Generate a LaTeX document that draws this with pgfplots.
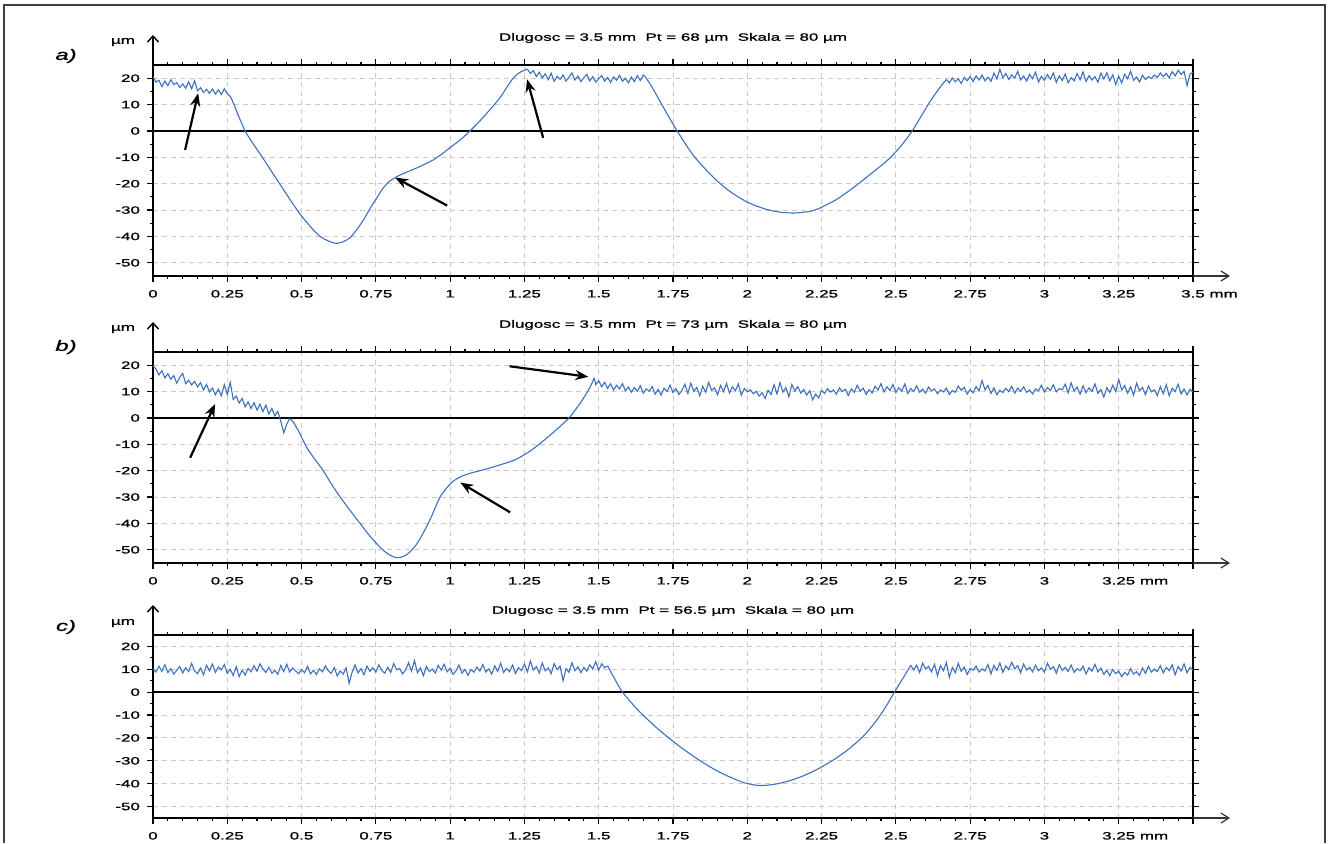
\documentclass[border=0pt]{standalone}
\usepackage{fontspec}
\setmainfont{Liberation Sans}[FakeStretch=1.6, FakeBold=1.2]
\usepackage{pgfplots}
\pgfplotsset{compat=1.18}
\usetikzlibrary{arrows.meta}

\definecolor{prof}{RGB}{62,112,190}
\definecolor{gridc}{RGB}{212,198,192}
\newcommand\sz{\fontsize{5.3}{6}\selectfont}

\tikzset{note/.style={black, line width=1.1pt, -{Stealth[length=6.5pt,width=5pt]}}}

\pgfplotsset{
  profile/.style={
    scale only axis, width=520pt,
    xmin=0, xmax=3.5, ymin=-55, ymax=25,
    xtick={0,0.25,0.5,0.75,1,1.25,1.5,1.75,2,2.25,2.5,2.75,3,3.25,3.5},
    ytick={-50,-40,-30,-20,-10,0,10,20},
    yticklabels={-50,-40,-30,-20,-10,0,10,20},
    minor x tick num=4, minor y tick num=1,
    grid=major,
    major grid style={gridc, dash pattern=on 2.5pt off 2pt, line width=0.45pt},
    tick align=outside, major tick length=3pt, minor tick length=1.5pt,
    every tick/.style={black, line width=0.6pt},
    axis line style={black, line width=0.8pt},
    ticklabel style={font=\sz},
    xticklabel style={yshift=-0.5pt},
  },
  curve/.style={prof, line width=0.55pt},
  smoothcurve/.style={prof, line width=0.55pt, smooth, tension=0.45},
}

\begin{document}
\begin{tikzpicture}
\useasboundingbox (0,0) rectangle (664pt,421.5pt);
\draw[black!75, line width=0.6pt] (2pt,0) -- (2pt,419pt) -- (662.5pt,419pt) -- (662.5pt,0);

% ---------------- a)
\begin{axis}[profile, name=pa, height=105.5pt, at={(76.5pt,283.5pt)}, anchor=south west,
  xticklabels={0,0.25,0.5,0.75,1,1.25,1.5,1.75,2,2.25,2.5,2.75,3,3.25,3.5\rlap{\ mm}}]
\draw[black, line width=0.7pt] (axis cs:0,0) -- (axis cs:3.5,0);
\addplot[curve] coordinates {
(0,20.5) (0.01,18.5) (0.02,19.2) (0.03,16.8) (0.04,18.9) (0.05,17.2) (0.06,19.4) (0.07,17.6) (0.08,18.3) (0.09,16.5)
(0.10,17.8) (0.11,16.2) (0.12,18.6) (0.13,16.0) (0.14,19.0) (0.15,15.2) (0.16,16.4) (0.17,14.6) (0.18,15.8) (0.19,14.3)
(0.20,15.9) (0.21,14.0) (0.22,15.6) (0.23,13.8) (0.24,16.0) (0.25,14.2)};
\addplot[smoothcurve] coordinates {
(0.25,14.2) (0.265,12) (0.31,0) (0.368,-10) (0.426,-20) (0.485,-30) (0.52,-35) (0.56,-39.8) (0.60,-42.2) (0.62,-42.6)
(0.64,-42) (0.663,-40.5) (0.685,-37.5) (0.707,-34) (0.73,-29.5) (0.754,-25.2) (0.775,-21.6) (0.798,-18.9) (0.83,-16.8)
(0.865,-15.1) (0.90,-13.4) (0.943,-11.0) (0.975,-8.5) (1.0,-6.3) (1.035,-3.3) (1.067,0) (1.10,3.8) (1.135,8.2) (1.168,12.6)
(1.19,16.4) (1.212,20) (1.235,22.2) (1.26,23.5)};
\addplot[curve] coordinates {
(1.26,23.5) (1.27,21.8) (1.28,22.9) (1.29,20.6) (1.30,22.3) (1.31,20.1) (1.32,21.7) (1.33,19.4) (1.34,21.9) (1.35,18.8)
(1.36,20.7) (1.37,19.6) (1.38,21.2) (1.39,18.9) (1.40,20.4) (1.41,22.0) (1.42,19.3) (1.43,20.8) (1.44,18.7) (1.45,20.2)
(1.46,21.5) (1.47,19.0) (1.48,20.6) (1.49,18.5) (1.50,19.8) (1.51,21.0) (1.52,18.9) (1.53,20.3) (1.54,18.4) (1.55,20.5)
(1.56,19.2) (1.57,21.1) (1.58,18.8) (1.59,20.0) (1.60,18.3) (1.61,20.4) (1.62,18.7) (1.63,21.0) (1.64,19.1) (1.65,21.2)
(1.66,20.0)};
\addplot[smoothcurve] coordinates {
(1.66,20.0) (1.68,16.5) (1.72,8.5) (1.764,0) (1.82,-9.5) (1.886,-17.6) (1.94,-22.8) (2.0,-27) (2.06,-29.6) (2.11,-30.8)
(2.16,-31.1) (2.21,-30.5) (2.245,-29.2) (2.30,-26) (2.357,-21.5) (2.41,-16.8) (2.47,-11.3) (2.515,-6) (2.555,0)
(2.59,6.5) (2.616,11.3) (2.645,16) (2.67,19.5)};
\addplot[curve] coordinates {
(2.67,19.5) (2.68,18.2) (2.69,20.1) (2.70,18.6) (2.71,19.8) (2.72,18.0) (2.73,20.3) (2.74,19.0) (2.75,20.6) (2.76,18.7)
(2.77,20.9) (2.78,19.3) (2.79,21.2) (2.80,19.0) (2.81,20.4) (2.82,18.8) (2.83,22.0) (2.84,19.7) (2.85,23.4) (2.86,20.2)
(2.87,21.8) (2.88,19.5) (2.89,21.3) (2.90,20.0) (2.91,22.6) (2.92,19.4) (2.93,20.8) (2.94,18.9) (2.95,21.5) (2.96,19.8)
(2.97,22.3) (2.98,18.6) (2.99,20.7) (3.00,19.2) (3.01,21.4) (3.02,19.6) (3.03,22.0) (3.04,18.4) (3.05,20.9) (3.06,19.1)
(3.07,21.6) (3.08,18.3) (3.09,20.2) (3.10,19.0) (3.11,21.8) (3.12,19.4) (3.13,22.4) (3.14,18.7) (3.15,21.0) (3.16,19.3)
(3.17,20.6) (3.18,18.5) (3.19,21.9) (3.20,19.7) (3.21,22.1) (3.22,19.0) (3.23,21.3) (3.24,17.6) (3.25,20.8) (3.26,18.2)
(3.27,21.5) (3.28,19.8) (3.29,22.7) (3.30,19.2) (3.31,20.4) (3.32,18.6) (3.33,21.1) (3.34,19.5) (3.35,20.6) (3.36,19.9)
(3.37,21.2) (3.38,20.3) (3.39,22.0) (3.40,20.6) (3.41,21.8) (3.42,20.1) (3.43,22.5) (3.44,20.9) (3.45,23.0) (3.46,21.4)
(3.47,22.6) (3.48,17.2) (3.49,21.5) (3.50,22.3)};
\draw[note] (axis cs:0.108,-7.2) -- (axis cs:0.152,14.3);
\draw[note] (axis cs:0.99,-28.3) -- (axis cs:0.815,-17.7);
\draw[note] (axis cs:1.313,-2.6) -- (axis cs:1.259,19.6);
\end{axis}

% ---------------- b)
\begin{axis}[profile, name=pb, height=105.5pt, at={(76.5pt,140pt)}, anchor=south west,
  xticklabels={0,0.25,0.5,0.75,1,1.25,1.5,1.75,2,2.25,2.5,2.75,3,3.25\rlap{\ mm},{}}]
\draw[black, line width=0.7pt] (axis cs:0,0) -- (axis cs:3.5,0);
\addplot[curve] coordinates {
(0,19.8) (0.01,18.6) (0.02,16.3) (0.03,17.9) (0.04,15.2) (0.05,16.8) (0.06,14.7) (0.07,16.1) (0.08,13.2) (0.09,15.4)
(0.10,16.9) (0.11,13.0) (0.12,14.3) (0.13,12.5) (0.14,13.9) (0.15,11.8) (0.16,13.4) (0.17,10.6) (0.18,12.7) (0.19,9.9)
(0.20,11.3) (0.21,8.8) (0.22,10.9) (0.23,8.4) (0.24,12.6) (0.25,8.9) (0.26,13.5) (0.27,7.0) (0.28,8.3) (0.29,5.6)
(0.30,7.4) (0.31,4.2) (0.32,6.1) (0.33,3.6) (0.34,5.8) (0.35,3.0) (0.36,5.2) (0.37,2.4) (0.38,4.9) (0.39,1.5)
(0.40,3.6) (0.41,0.8) (0.42,2.5) (0.43,-1.2) (0.44,-5.6) (0.45,-2.4) (0.46,-0.3) (0.47,-1.2)};
\addplot[smoothcurve] coordinates {
(0.47,-1.2) (0.49,-5) (0.518,-11.3) (0.545,-15.7) (0.573,-20) (0.60,-25) (0.63,-30) (0.665,-35.3) (0.697,-40) (0.73,-44.8)
(0.764,-49) (0.79,-51.5) (0.82,-53) (0.845,-52.4) (0.865,-50.8) (0.889,-47.6) (0.91,-43.5) (0.933,-38.4) (0.95,-34)
(0.966,-30) (0.99,-26.3) (1.01,-24) (1.035,-22.3) (1.067,-21) (1.12,-19.4) (1.168,-17.8) (1.22,-15.8) (1.27,-12.5)
(1.31,-9) (1.35,-5.2) (1.40,0) (1.44,6) (1.47,11.5) (1.485,15.2)};
\addplot[curve] coordinates {
(1.485,15.2) (1.49,12.6) (1.50,14.1) (1.51,11.8) (1.52,13.5) (1.53,11.2) (1.54,12.9) (1.55,10.6) (1.56,12.4) (1.57,11.0)
(1.58,13.0) (1.59,10.3) (1.60,11.7) (1.61,9.8) (1.62,11.5) (1.63,10.1) (1.64,12.2) (1.65,9.4) (1.66,11.0) (1.67,10.2)
(1.68,11.9) (1.69,9.0) (1.70,10.8) (1.71,8.7) (1.72,11.3) (1.73,10.0) (1.74,12.5) (1.75,9.6) (1.76,11.1) (1.77,8.9)
(1.78,10.4) (1.79,12.8) (1.80,9.3) (1.81,13.2) (1.82,10.1) (1.83,11.6) (1.84,8.4) (1.85,12.0) (1.86,9.7) (1.87,13.5)
(1.88,10.5) (1.89,11.4) (1.90,8.8) (1.91,12.3) (1.92,10.0) (1.93,13.1) (1.94,9.5) (1.95,11.8) (1.96,10.3) (1.97,12.9)
(1.98,8.6) (1.99,11.2) (2.00,9.9) (2.01,10.7) (2.02,9.2) (2.03,10.1) (2.04,8.3) (2.05,9.6) (2.06,7.4) (2.07,10.5)
(2.08,8.9) (2.09,12.6) (2.10,9.1) (2.11,13.4) (2.12,9.8) (2.13,11.5) (2.14,8.0) (2.15,12.7) (2.16,10.2) (2.17,11.9)
(2.18,9.4) (2.19,10.8) (2.20,8.7) (2.21,10.3) (2.22,6.9) (2.23,9.0) (2.24,7.6) (2.25,10.4) (2.26,9.3) (2.27,11.1)
(2.28,9.8) (2.29,10.6) (2.30,9.0) (2.31,11.4) (2.32,10.0) (2.33,10.9) (2.34,8.5) (2.35,11.0) (2.36,9.7) (2.37,12.4)
(2.38,10.1) (2.39,11.3) (2.40,8.9) (2.41,10.7) (2.42,9.5) (2.43,12.0) (2.44,10.6) (2.45,13.0) (2.46,9.9) (2.47,11.8)
(2.48,10.4) (2.49,12.7) (2.50,9.6) (2.51,11.5) (2.52,10.2) (2.53,12.9) (2.54,9.3) (2.55,11.1) (2.56,10.0) (2.57,12.2)
(2.58,9.8) (2.59,10.9) (2.60,9.4) (2.61,11.7) (2.62,10.3) (2.63,11.0) (2.64,9.2) (2.65,10.6) (2.66,9.9) (2.67,11.3)
(2.68,8.9) (2.69,10.4) (2.70,9.7) (2.71,12.1) (2.72,10.5) (2.73,11.6) (2.74,9.0) (2.75,10.8) (2.76,9.5) (2.77,11.9)
(2.78,10.2) (2.79,14.2) (2.80,10.7) (2.81,12.3) (2.82,9.3) (2.83,11.4) (2.84,8.8) (2.85,10.5) (2.86,9.6) (2.87,11.2)
(2.88,10.0) (2.89,12.0) (2.90,9.4) (2.91,11.3) (2.92,10.1) (2.93,11.8) (2.94,9.7) (2.95,10.6) (2.96,9.1) (2.97,11.0)
(2.98,10.3) (2.99,12.4) (3.00,9.8) (3.01,11.5) (3.02,10.4) (3.03,12.6) (3.04,9.9) (3.05,11.1) (3.06,10.7) (3.07,12.8)
(3.08,9.5) (3.09,13.3) (3.10,10.2) (3.11,11.7) (3.12,9.0) (3.13,12.2) (3.14,9.6) (3.15,11.4) (3.16,10.1) (3.17,12.9)
(3.18,9.3) (3.19,10.8) (3.20,7.9) (3.21,11.5) (3.22,9.7) (3.23,12.4) (3.24,10.0) (3.25,14.6) (3.26,10.6) (3.27,12.3)
(3.28,9.4) (3.29,11.8) (3.30,8.6) (3.31,13.2) (3.32,10.3) (3.33,11.6) (3.34,8.8) (3.35,12.1) (3.36,9.9) (3.37,10.7)
(3.38,8.5) (3.39,11.9) (3.40,9.2) (3.41,12.6) (3.42,8.4) (3.43,11.3) (3.44,10.0) (3.45,12.8) (3.46,9.1) (3.47,11.0)
(3.48,8.7) (3.49,10.9) (3.50,9.8)};
\draw[note] (axis cs:0.125,-15.1) -- (axis cs:0.209,5.3);
\draw[note] (axis cs:1.202,-35.8) -- (axis cs:1.034,-24.5);
\draw[note] (axis cs:1.20,19.6) -- (axis cs:1.465,15.6);
\end{axis}

% ---------------- c)
\begin{axis}[profile, name=pc, height=91.5pt, at={(76.5pt,12.5pt)}, anchor=south west,
  xticklabels={0,0.25,0.5,0.75,1,1.25,1.5,1.75,2,2.25,2.5,2.75,3,3.25\rlap{\ mm},{}}]
\draw[black, line width=0.7pt] (axis cs:0,0) -- (axis cs:3.5,0);
\addplot[curve] coordinates {
(0.00,10.2) (0.01,8.8) (0.02,11.4) (0.03,9.1) (0.04,12.0) (0.05,8.6) (0.06,10.3) (0.07,7.9) (0.08,9.6) (0.09,11.2)
(0.10,8.4) (0.11,10.7) (0.12,9.0) (0.13,12.6) (0.14,9.3) (0.15,8.1) (0.16,10.5) (0.17,7.6) (0.18,11.8) (0.19,9.4)
(0.20,12.3) (0.21,8.7) (0.22,11.0) (0.23,9.8) (0.24,12.1) (0.25,8.2) (0.26,10.0) (0.27,7.3) (0.28,11.1) (0.29,6.8)
(0.30,9.7) (0.31,7.5) (0.32,10.4) (0.33,8.9) (0.34,11.6) (0.35,9.2) (0.36,12.4) (0.37,10.1) (0.38,8.6) (0.39,10.9)
(0.40,8.3) (0.41,9.5) (0.42,7.8) (0.43,11.7) (0.44,9.0) (0.45,12.2) (0.46,8.8) (0.47,10.6) (0.48,9.3) (0.49,8.1)
(0.50,9.9) (0.51,8.5) (0.52,11.3) (0.53,8.0) (0.54,9.6) (0.55,7.7) (0.56,10.2) (0.57,8.9) (0.58,11.5) (0.59,9.4)
(0.60,8.2) (0.61,10.8) (0.62,7.1) (0.63,9.3) (0.64,7.9) (0.65,10.6) (0.66,3.9) (0.67,8.7) (0.68,11.9) (0.69,8.4)
(0.70,10.3) (0.71,7.6) (0.72,11.4) (0.73,9.1) (0.74,10.7) (0.75,8.8) (0.76,12.0) (0.77,9.5) (0.78,8.3) (0.79,10.9)
(0.80,8.6) (0.81,12.5) (0.82,9.8) (0.83,10.4) (0.84,8.0) (0.85,9.7) (0.86,12.9) (0.87,9.2) (0.88,13.8) (0.89,8.5)
(0.90,10.6) (0.91,7.2) (0.92,11.3) (0.93,9.0) (0.94,10.1) (0.95,8.4) (0.96,11.7) (0.97,9.6) (0.98,12.2) (0.99,8.9)
(1.00,10.5) (1.01,7.8) (1.02,9.4) (1.03,11.8) (1.04,8.3) (1.05,10.0) (1.06,7.4) (1.07,9.9) (1.08,8.7) (1.09,11.0)
(1.10,9.3) (1.11,12.1) (1.12,8.8) (1.13,10.2) (1.14,7.9) (1.15,11.5) (1.16,9.1) (1.17,12.7) (1.18,8.6) (1.19,10.4)
(1.20,9.0) (1.21,11.9) (1.22,8.2) (1.23,10.7) (1.24,9.5) (1.25,12.3) (1.26,8.9) (1.27,13.6) (1.28,9.7) (1.29,11.2)
(1.30,8.4) (1.31,12.8) (1.32,9.3) (1.33,10.6) (1.34,8.1) (1.35,12.5) (1.36,9.9) (1.37,11.4) (1.38,5.0) (1.39,10.3)
(1.40,8.7) (1.41,12.9) (1.42,9.4) (1.43,11.1) (1.44,8.5) (1.45,10.8) (1.46,9.2) (1.47,12.0) (1.48,10.1) (1.49,13.4)
(1.50,9.6) (1.51,12.4) (1.52,10.7) (1.53,11.5)};
\addplot[smoothcurve] coordinates {
(1.53,11.5) (1.555,5.5) (1.58,0) (1.63,-7.5) (1.69,-15) (1.76,-22.5) (1.83,-29) (1.89,-33.8) (1.94,-37) (1.99,-39.6)
(2.04,-40.8) (2.09,-40.3) (2.14,-38.8) (2.19,-36.5) (2.24,-33.4) (2.29,-29.6) (2.34,-25) (2.39,-19.3) (2.43,-13.2)
(2.465,-6.6) (2.495,0) (2.525,6.3) (2.55,11.8)};
\addplot[curve] coordinates {
(2.55,11.8) (2.56,9.7) (2.57,11.8) (2.58,8.6) (2.59,12.7) (2.60,10.1) (2.61,11.3) (2.62,8.9) (2.63,12.2) (2.64,7.2)
(2.65,11.6) (2.66,9.4) (2.67,12.9) (2.68,6.4) (2.69,10.8) (2.70,8.5) (2.71,12.6) (2.72,9.1) (2.73,11.0) (2.74,7.7)
(2.75,10.4) (2.76,9.6) (2.77,11.4) (2.78,8.8) (2.79,10.2) (2.80,9.3) (2.81,12.1) (2.82,8.0) (2.83,11.7) (2.84,9.5)
(2.85,12.8) (2.86,8.7) (2.87,11.5) (2.88,9.9) (2.89,13.1) (2.90,10.2) (2.91,11.6) (2.92,8.4) (2.93,12.3) (2.94,9.7)
(2.95,10.9) (2.96,8.9) (2.97,11.8) (2.98,9.4) (2.99,10.6) (3.00,8.8) (3.01,12.7) (3.02,10.0) (3.03,11.2) (3.04,8.3)
(3.05,12.0) (3.06,9.6) (3.07,10.8) (3.08,9.1) (3.09,11.9) (3.10,8.6) (3.11,10.3) (3.12,9.4) (3.13,11.4) (3.14,8.0)
(3.15,10.7) (3.16,9.2) (3.17,12.2) (3.18,8.9) (3.19,10.5) (3.20,7.8) (3.21,9.6) (3.22,7.2) (3.23,9.9) (3.24,8.1)
(3.25,9.2) (3.26,6.8) (3.27,8.7) (3.28,7.4) (3.29,10.3) (3.30,7.9) (3.31,9.0) (3.32,7.3) (3.33,10.6) (3.34,8.2)
(3.35,11.3) (3.36,8.7) (3.37,10.1) (3.38,9.0) (3.39,11.6) (3.40,8.4) (3.41,10.8) (3.42,9.5) (3.43,12.0) (3.44,7.6)
(3.45,11.2) (3.46,9.3) (3.47,12.4) (3.48,8.5) (3.49,10.9) (3.50,9.7)};
\end{axis}

% axis arrows, titles and labels
\foreach \p in {pa,pb,pc}{
  \draw[black, line width=0.7pt, -{Straight Barb[length=3pt,width=5.5pt]}] (\p.north west) -- ++(0,15pt);
  \draw[black!80, line width=0.6pt, -{Straight Barb[length=4pt,width=5pt]}] (\p.south east) -- ++(18.5pt,0);
}
\node[font=\sz] at (336.5pt,402.5pt) {Dlugosc = 3.5 mm\ \ Pt = 68 µm\ \ Skala = 80 µm};
\node[font=\sz] at (336.5pt,259pt) {Dlugosc = 3.5 mm\ \ Pt = 73 µm\ \ Skala = 80 µm};
\node[font=\sz] at (336.5pt,116pt) {Dlugosc = 3.5 mm\ \ Pt = 56.5 µm\ \ Skala = 80 µm};
\node[font=\sz] at (61.5pt,400.5pt) {µm};
\node[font=\sz] at (61.5pt,257pt) {µm};
\node[font=\sz] at (61.5pt,110pt) {µm};
\node[font=\fontsize{7.5}{9}\selectfont\itshape] at (33pt,393.5pt) {a)};
\node[font=\fontsize{7.5}{9}\selectfont\itshape] at (33pt,248pt) {b)};
\node[font=\fontsize{7.5}{9}\selectfont\itshape] at (33pt,108pt) {c)};
\end{tikzpicture}
\end{document}
